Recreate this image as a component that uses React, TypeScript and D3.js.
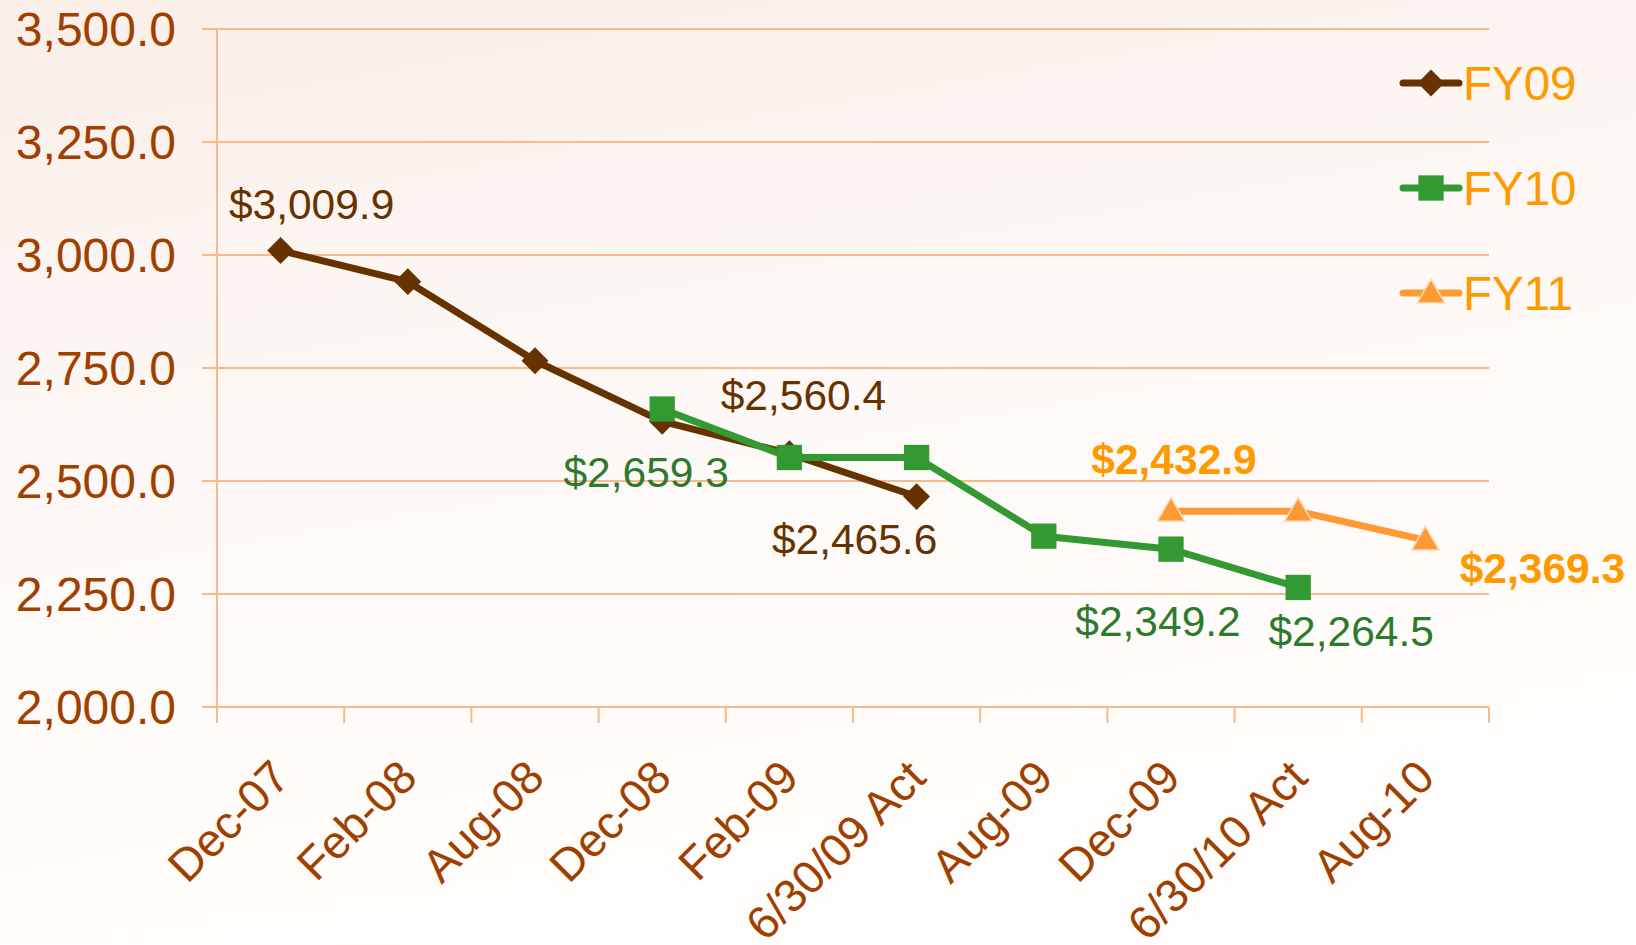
import React from 'react';
import * as d3 from 'd3';

const categories = ['Dec-07', 'Feb-08', 'Aug-08', 'Dec-08', 'Feb-09', '6/30/09 Act', 'Aug-09', 'Dec-09', '6/30/10 Act', 'Aug-10'];
const fy09: (number | null)[] = [3009.9, 2941, 2766, 2632, 2560.4, 2465.6, null, null, null, null];
const fy10: (number | null)[] = [null, null, null, 2659.3, 2552, 2552, 2378, 2349.2, 2264.5, null];
const fy11: (number | null)[] = [null, null, null, null, null, null, null, 2432.9, 2432.9, 2369.3];
const yTicks = [2000, 2250, 2500, 2750, 3000, 3250, 3500];
const seriesNames = ['FY09', 'FY10', 'FY11'];

// label placement: series index, category index, offsets from the point
const dataLabels = [
  { s: 0, i: 0, dx: 31, dy: -32 },
  { s: 0, i: 4, dx: 14, dy: -44 },
  { s: 0, i: 5, dx: -62, dy: 57 },
  { s: 1, i: 3, dx: -16, dy: 78 },
  { s: 1, i: 7, dx: -13, dy: 87 },
  { s: 1, i: 8, dx: 53, dy: 59 },
  { s: 2, i: 7, dx: 3, dy: -37 },
  { s: 2, i: 9, dx: 117, dy: 43 },
];

const W = 1636, H = 945;
const M = { left: 217, right: 1489, top: 29, bottom: 707 };
const FONT = "Arial, 'Liberation Sans', sans-serif";
const AXIS_COLOR = '#A04000';
const GRID = '#FBB888';

const seriesStyle = [
  { color: '#663300', labelColor: '#663300', symbol: 'diamond', bold: false },
  { color: '#339933', labelColor: '#2D7A2D', symbol: 'square', bold: false },
  { color: '#FF9933', labelColor: '#FF9900', symbol: 'triangle', bold: true },
];

function marker(kind: string, x: number, y: number, color: string, key: string) {
  if (kind === 'diamond') {
    const p = d3.symbol().type(d3.symbolSquare).size(360)();
    return <path key={key} d={p || ''} transform={`translate(${x},${y}) rotate(45)`} fill={color} />;
  }
  if (kind === 'square') {
    const p = d3.symbol().type(d3.symbolSquare).size(640)();
    return <path key={key} d={p || ''} transform={`translate(${x},${y})`} fill={color} />;
  }
  const p = d3.symbol().type(d3.symbolTriangle).size(330)();
  return <path key={key} d={p || ''} transform={`translate(${x},${y + 2})`} fill={color} stroke="#FFDDBB" strokeWidth={1.5} />;
}

export default function App() {
  const x = d3.scaleBand<string>().domain(categories).range([M.left, M.right]).paddingInner(0).paddingOuter(0);
  const y = d3.scaleLinear().domain([2000, 3500]).range([M.bottom, M.top]);
  const cx = (i: number) => (x(categories[i]) as number) + x.bandwidth() / 2;
  const series = [fy09, fy10, fy11];
  const line = d3
    .line<number | null>()
    .defined((d) => d !== null)
    .x((_, i) => cx(i))
    .y((d) => y(d as number));
  const fmt = d3.format(',.1f');
  const tickXs = categories.map((c) => x(c) as number).concat([M.right]);

  return (
    <svg width={W} height={H} style={{ position: 'absolute', left: 0, top: 0 }} xmlns="http://www.w3.org/2000/svg">
      <defs>
        <linearGradient id="bg" x1="0" y1="0" x2="0.3" y2="1">
          <stop offset="0" stopColor="#FAEEE8" />
          <stop offset="0.45" stopColor="#FDF8F5" />
          <stop offset="1" stopColor="#FFFDFB" />
        </linearGradient>
      </defs>
      <rect x={0} y={0} width={W} height={H} fill="url(#bg)" />

      {yTicks.map((t) => (
        <g key={t}>
          <line x1={M.left - 15} x2={M.right} y1={y(t)} y2={y(t)} stroke={GRID} strokeWidth={2} />
          <text x={176} y={y(t)} dy="0.35em" textAnchor="end" fontFamily={FONT} fontSize={48} fill={AXIS_COLOR}>
            {fmt(t)}
          </text>
        </g>
      ))}
      <line x1={M.left} x2={M.left} y1={M.top} y2={M.bottom} stroke={GRID} strokeWidth={2} />
      {tickXs.map((tx, i) => (
        <line key={i} x1={tx} x2={tx} y1={M.bottom} y2={M.bottom + 16} stroke={GRID} strokeWidth={2} />
      ))}
      {categories.map((c, i) => (
        <text
          key={c}
          transform={`translate(${cx(i) + 11.5},${780}) rotate(-45)`}
          textAnchor="end"
          fontFamily={FONT}
          fontSize={46}
          fill={AXIS_COLOR}
        >
          {c}
        </text>
      ))}

      {series.map((s, si) => (
        <g key={si}>
          <path d={line(s) || ''} fill="none" stroke={seriesStyle[si].color} strokeWidth={7} strokeLinejoin="round" />
          {s.map((v, i) => (v === null ? null : marker(seriesStyle[si].symbol, cx(i), y(v), seriesStyle[si].color, `${si}-${i}`)))}
        </g>
      ))}

      {dataLabels.map((l, k) => {
        const v = series[l.s][l.i] as number;
        return (
          <text
            key={k}
            x={cx(l.i) + l.dx}
            y={y(v) + l.dy}
            textAnchor="middle"
            fontFamily={FONT}
            fontSize={42.5}
            fontWeight={seriesStyle[l.s].bold ? 'bold' : 'normal'}
            fill={seriesStyle[l.s].labelColor}
          >
            {'$' + fmt(v)}
          </text>
        );
      })}

      {seriesNames.map((n, si) => {
        const ly = 83 + si * 105;
        return (
          <g key={n}>
            <line x1={1403} x2={1459} y1={ly} y2={ly} stroke={seriesStyle[si].color} strokeWidth={7} strokeLinecap="round" />
            {marker(seriesStyle[si].symbol, 1431, ly, seriesStyle[si].color, 'lg' + si)}
            <text x={1463} y={ly} dy="0.35em" fontFamily={FONT} fontSize={47.5} fill="#FF9900">
              {n}
            </text>
          </g>
        );
      })}
    </svg>
  );
}
